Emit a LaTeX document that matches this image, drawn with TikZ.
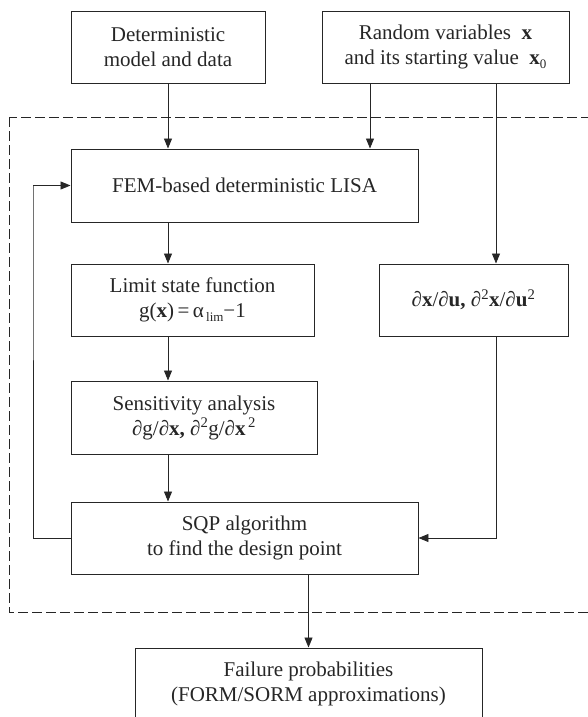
\documentclass[tikz,border=0pt]{standalone}
\usepackage{fontspec}
\setmainfont{Liberation Serif}
\usetikzlibrary{arrows.meta}
\definecolor{ink}{HTML}{262626}
\tikzset{
  box/.style={draw=ink, line width=0.95bp, rectangle, align=center, inner sep=0pt,
    font=\fontsize{21bp}{25bp}\selectfont, text=ink},
  arr/.style={draw=ink, line width=0.9bp, -{Triangle[length=10bp,width=8bp]}},
  dashbox/.style={draw=ink, line width=0.9bp, dash pattern=on 9.5bp off 4.5bp}
}
\begin{document}
\begin{tikzpicture}[x=1bp,y=-1bp]
\useasboundingbox (0,0) rectangle (588,717);
\draw[dashbox] (9,117) rectangle (610,612);
\node[box, minimum width=194bp, minimum height=72bp] (A) at (168,47) {Deterministic\\model and data};
\node[box, minimum width=247bp, minimum height=72bp] (B) at (445.5,47) {Random variables\ \ \textbf{x}\\and its starting value\ \ \textbf{x}\raisebox{-0.45ex}{\fontsize{13bp}{13bp}\selectfont 0}};
\node[box, minimum width=347bp, minimum height=73bp] (FEM) at (244.5,185.5) {FEM-based deterministic LISA};
\node[box, minimum width=243bp, minimum height=72bp] (L) at (192.5,300) {Limit state function\\g(\textbf{x})\,=\,α\raisebox{-0.45ex}{\fontsize{13bp}{13bp}\selectfont\,lim}−1};
\node[box, minimum width=189bp, minimum height=72bp] (R) at (473.5,300) {∂\textbf{x}/∂\textbf{u,} ∂\textsuperscript{2}\textbf{x}/∂\textbf{u}\textsuperscript{2}};
\node[box, minimum width=246bp, minimum height=73bp] (S) at (194,417.5) {Sensitivity analysis\\∂g/∂\textbf{x,} ∂\textsuperscript{2}g/∂\textbf{x}\textsuperscript{\,2}};
\node[box, minimum width=347bp, minimum height=72bp] (Q) at (244.5,538) {SQP algorithm\\to find the design point};
\node[box, minimum width=347bp, minimum height=72bp] (F) at (308.5,684) {Failure probabilities\\(FORM/SORM approximations)};
\coordinate (c1) at (168,0);
\coordinate (b1) at (370,0);
\coordinate (b2) at (496,0);
\coordinate (fb) at (33,186);
\draw[arr] (A.south) -- (A.south |- FEM.north);
\draw[arr] (B.south -| b1) -- (b1 |- FEM.north);
\draw[arr] (B.south -| b2) -- (b2 |- R.north);
\draw[arr] (FEM.south -| c1) -- (c1 |- L.north);
\draw[arr] (L.south -| c1) -- (c1 |- S.north);
\draw[arr] (S.south -| c1) -- (c1 |- Q.north);
\draw[arr] (R.south -| b2) |- (Q.east);
\draw[arr] (Q.west) -| (fb) |- (FEM.west);
\draw[arr] (Q.south -| F.north) -- (F.north);
\end{tikzpicture}
\end{document}
